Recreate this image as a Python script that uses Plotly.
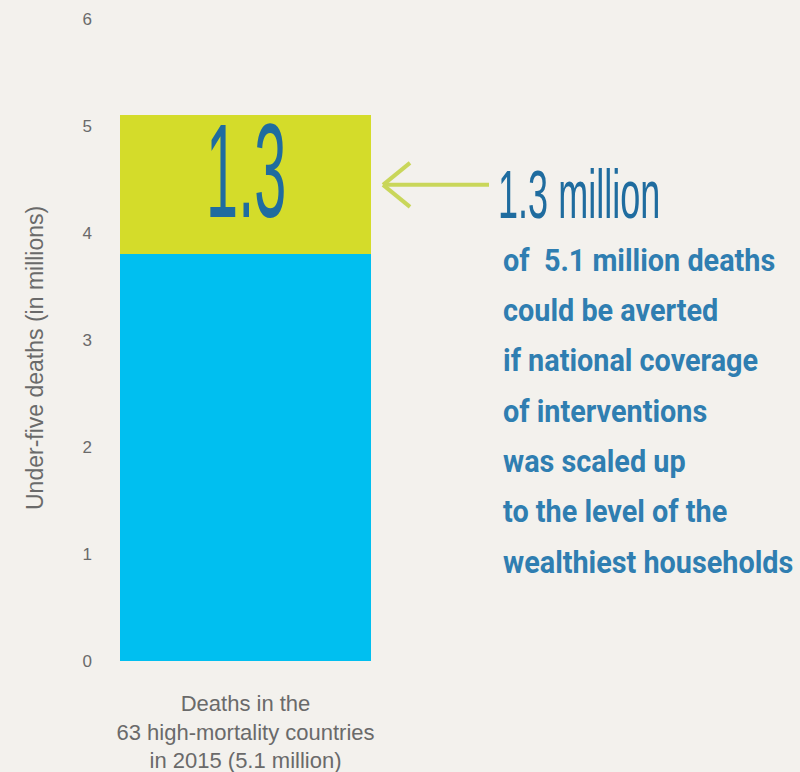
import plotly.graph_objects as go

# ---- data ----
category = ["Deaths in the<br>63 high-mortality countries<br>in 2015 (5.1 million)"]
remaining_deaths = [3.8]
averted_deaths = [1.3]
y_ticks = [0, 1, 2, 3, 4, 5, 6]
y_title = "Under-five deaths (in millions)"
headline = "1.3 million"
body_lines = [
    "of  5.1 million deaths",
    "could be averted",
    "if national coverage",
    "of interventions",
    "was scaled up",
    "to the level of the",
    "wealthiest households",
]

BG = "#f3f1ed"
CYAN = "#00bff0"
LIME = "#d4dc2a"
ARROW = "#c9d65a"
DARK = "#1f6c9f"
BODY = "#2f7eb1"
GRAY = "#6a6a6a"
SANS = "Liberation Sans"

# plot area in pixels
L, R, T, B = 100, 391, 19, 661
W, H = 800, 772

def px(x):
    return (x - L) / (R - L)

def py(y):
    return (B - y) / (B - T)

fig = go.Figure()
fig.add_trace(go.Bar(x=category, y=remaining_deaths, marker_color=CYAN,
                     width=0.8625, marker_line_width=0, hoverinfo="skip"))
fig.add_trace(go.Bar(x=category, y=averted_deaths, marker_color=LIME,
                     width=0.8625, marker_line_width=0, hoverinfo="skip"))

mid = remaining_deaths[0] + averted_deaths[0] / 2

annotations = [
    dict(x=0, y=mid, xref="x", yref="y", text=f"{averted_deaths[0]:.1f}",
         showarrow=False, font=dict(family=SANS, size=134, color=DARK),
         xanchor="center", yanchor="middle", yshift=14),
    dict(x=px(496), y=mid, xref="paper", yref="y", text=headline,
         showarrow=False, font=dict(family=SANS, size=68, color=DARK),
         xanchor="left", yanchor="middle", yshift=-9),
    dict(x=px(35), y=py(358), xref="paper", yref="paper", text=y_title, textangle=-90,
         showarrow=False, font=dict(family=SANS, size=23, color=GRAY),
         xanchor="center", yanchor="middle"),
]
line_y = [260, 310, 360, 411, 461, 511, 562]
for t, yy in zip(body_lines, line_y):
    annotations.append(dict(x=px(501), y=py(yy), xref="paper", yref="paper", text=f"<b>{t}</b>",
                            showarrow=False, xanchor="left", yanchor="middle",
                            font=dict(family="Roboto", size=32, color=BODY)))

shapes = [
    dict(type="line", xref="paper", yref="y", x0=px(383), x1=px(489), y0=mid, y1=mid,
         line=dict(color=ARROW, width=4)),
    dict(type="line", xref="paper", yref="y", x0=px(383), x1=px(410), y0=mid, y1=mid + 22 / 107,
         line=dict(color=ARROW, width=4)),
    dict(type="line", xref="paper", yref="y", x0=px(383), x1=px(410), y0=mid, y1=mid - 22 / 107,
         line=dict(color=ARROW, width=4)),
]

fig.update_layout(
    width=W, height=H, barmode="stack", showlegend=False,
    paper_bgcolor=BG, plot_bgcolor=BG,
    margin=dict(l=L, r=W - R, t=T, b=H - B, pad=0, autoexpand=False),
    annotations=annotations, shapes=shapes,
    xaxis=dict(type="category", range=[-0.5, 0.5], showgrid=False, zeroline=False,
               showline=False, ticks="", ticklabelstandoff=27, automargin=False,
               tickfont=dict(family=SANS, size=22, color=GRAY)),
    yaxis=dict(range=[0, 6], tickvals=y_ticks, showgrid=False, zeroline=False, showline=False,
               ticks="", ticklabelstandoff=7, automargin=False,
               tickfont=dict(family=SANS, size=17, color=GRAY)),
)

post = """
function squeeze(){
  document.body.style.margin='0';
  document.querySelectorAll('.annotation-text').forEach(function(t){
    var s=t.textContent, k=null, o='left center';
    if(s==='1.3'){k=0.43;o='center center';}
    else if(s==='1.3 million'){k=0.53;}
    else if(s.indexOf('Under-five')===0){k=null;}
    else if(s.length>5){k=0.9;}
    if(k){t.style.transformBox='fill-box';t.style.transformOrigin=o;t.style.transform='scaleX('+k+')';}
  });
}
squeeze();
var gd=document.getElementById('{plot_id}');
if(gd&&gd.on){gd.on('plotly_afterplot',squeeze);}
"""

fig.write_html("out.html", post_script=post, config={"displayModeBar": False})
